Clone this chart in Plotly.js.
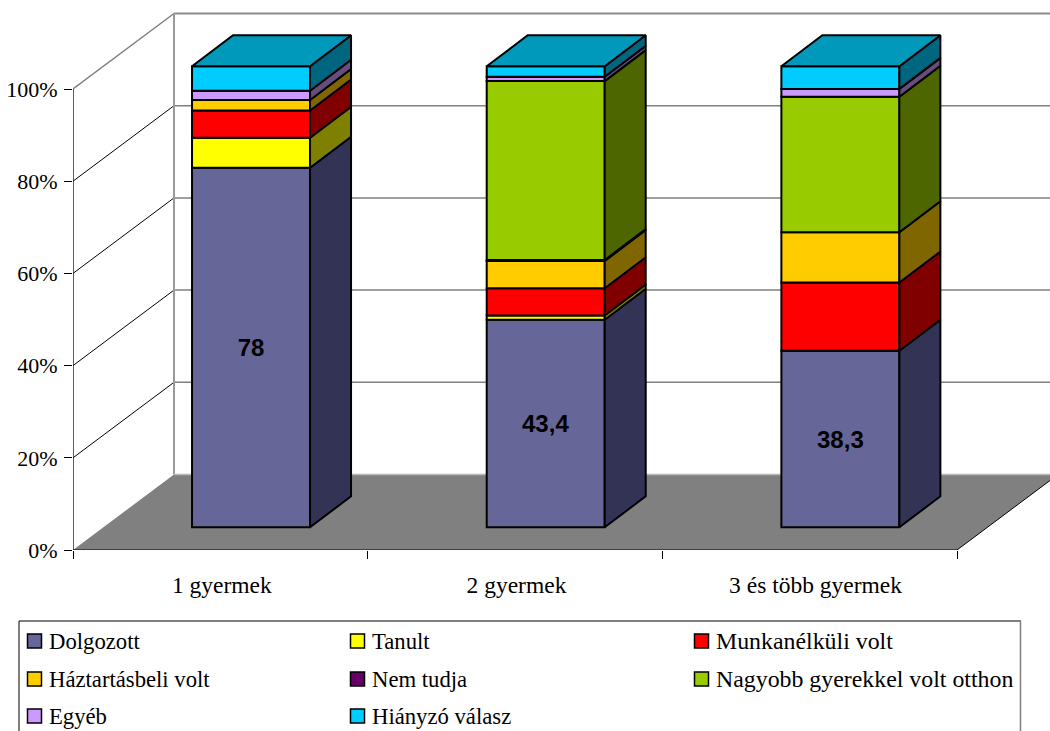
<!DOCTYPE html>
<html><head><meta charset="utf-8">
<script src="https://cdn.plot.ly/plotly-3.0.1.min.js"></script>
<style>html,body{margin:0;padding:0;background:#fff;overflow:hidden}</style>
</head><body><div id="chart" style="width:1050px;height:731px"></div>
<script>
var categories = ['1 gyermek', '2 gyermek', '3 és több gyermek'];
var labels = ['78', '43,4', '38,3'];
var dolgozott = [78, 43.4, 38.3];
var tanult = [6.5, 0.9, null];
var munkanelkuli = [5.9, 5.7, 14.8];
var haztartasbeli = [2.3, 5.7, 10.9];
var nemTudja = [null, 0.2, null];
var nagyobb = [null, 37.4, 29.4];
var egyeb = [2, 0.9, 1.7];
var hianyzo = [5.3, 2.2, 4.9];

var names = ['Dolgozott', 'Tanult', 'Munkanélküli volt', 'Háztartásbeli volt', 'Nem tudja', 'Nagyobb gyerekkel volt otthon', 'Egyéb', 'Hiányzó válasz'];
var series = [dolgozott, tanult, munkanelkuli, haztartasbeli, nemTudja, nagyobb, egyeb, hianyzo];
var frontColors = ['#666699', '#ffff00', '#ff0000', '#ffcc00', '#660066', '#99cc00', '#cc99ff', '#00ccff'];
var sideColors = ['#333355', '#808000', '#800000', '#806600', '#330033', '#4d6600', '#664d80', '#006680'];
var topColor = '#0099bb';

// pixel geometry of the plot
var L = 73, B = 550, W = 977, H = 550, CAT = 294.67, PCT = 4.61;
var WALL_DX = 101 / CAT, WALL_DY = 75.5 / PCT;      // floor depth
var BAR_SHIFT_X = 30.7 / CAT, BAR_SHIFT_Y = 22.7 / PCT; // bar position within floor
var BAR_W = 118 / CAT, BAR_DX = 41 / CAT, BAR_DY = 31 / PCT; // bar width and depth
var px = function (x) { return (x - L) / W; };
var py = function (y) { return (B - y) / H; };

var centers = categories.map(function (_, i) { return i + 0.5 + BAR_SHIFT_X; });
var totals = categories.map(function (_, c) {
  return series.reduce(function (s, arr) { return s + (arr[c] || 0); }, 0);
});
var traces = [], running = categories.map(function () { return 0; });
series.forEach(function (arr, s) {
  var base = [], h = [], sx = [], sy = [];
  categories.forEach(function (_, c) {
    var v = arr[c];
    var b = running[c] / totals[c] * 100;
    var pct = v === null ? null : v / totals[c] * 100;
    base.push(b + BAR_SHIFT_Y);
    h.push(pct);
    if (v !== null) {
      var xr = centers[c] + BAR_W / 2, y0 = b + BAR_SHIFT_Y, y1 = y0 + pct;
      sx.push(xr, xr + BAR_DX, xr + BAR_DX, xr, xr, null);
      sy.push(y0, y0 + BAR_DY, y1 + BAR_DY, y1, y0, null);
      running[c] += v;
    }
  });
  var tr = {
    type: 'bar', name: names[s], x: centers, y: h, base: base, width: BAR_W,
    marker: {color: frontColors[s], line: {color: '#000', width: 2}},
    hoverinfo: 'skip', showlegend: false
  };
  if (s === 0) {
    tr.text = labels; tr.textposition = 'inside'; tr.insidetextanchor = 'middle';
    tr.constraintext = 'none'; tr.textangle = 0;
    tr.insidetextfont = {family: '"Liberation Sans", Arial, sans-serif', size: 24, color: '#000', weight: 700};
    tr.texttemplate = '<b>%{text}</b>';
  }
  traces.push(tr);
  traces.push({
    type: 'scatter', mode: 'lines', x: sx, y: sy, fill: 'toself', fillcolor: sideColors[s],
    line: {color: '#000', width: 2}, hoverinfo: 'skip', showlegend: false
  });
});
// bar tops
var tx = [], ty = [];
categories.forEach(function (_, c) {
  var xl = centers[c] - BAR_W / 2, xr = centers[c] + BAR_W / 2, y = 100 + BAR_SHIFT_Y;
  tx.push(xl, xr, xr + BAR_DX, xl + BAR_DX, xl, null);
  ty.push(y, y, y + BAR_DY, y + BAR_DY, y, null);
});
traces.push({type: 'scatter', mode: 'lines', x: tx, y: ty, fill: 'toself', fillcolor: topColor,
  line: {color: '#000', width: 2}, hoverinfo: 'skip', showlegend: false});
// axis lines, not clipped at the plot edge
traces.push({type: 'scatter', mode: 'lines', x: [0, 0, categories.length], y: [100, 0, 0], cliponaxis: false,
  line: {color: '#000', width: 1.25}, hoverinfo: 'skip', showlegend: false});

var shapes = [];
var grey = '#808080';
function seg(x0, y0, x1, y1, color, width) {
  shapes.push({type: 'line', layer: 'below', xref: 'x', yref: 'y', x0: x0, y0: y0, x1: x1, y1: y1, line: {color: color, width: width}});
}
var N = categories.length, XMAX = W / CAT;
shapes.push({type: 'path', layer: 'below', xref: 'x', yref: 'y',
  path: 'M0,0 L' + N + ',0 L' + (N + WALL_DX) + ',' + WALL_DY + ' L' + WALL_DX + ',' + WALL_DY + ' Z',
  fillcolor: grey, line: {width: 0}});
seg(N, 0, N + WALL_DX, WALL_DY, '#000', 1);
[20, 40, 60, 80].forEach(function (v) {
  seg(0, v, WALL_DX, v + WALL_DY, '#000', 1);
  seg(WALL_DX, v + WALL_DY, XMAX + 1, v + WALL_DY, grey, 1.5);
});
seg(0, 100, WALL_DX, 100 + WALL_DY, grey, 1.5);
seg(WALL_DX, 100 + WALL_DY, XMAX + 1, 100 + WALL_DY, '#8c8c8c', 2);
seg(WALL_DX, WALL_DY, WALL_DX, 100 + WALL_DY, '#999999', 2);
seg(WALL_DX, WALL_DY, XMAX + 1, WALL_DY, '#b8b8b8', 1.5);

// legend
function frame(x0, y0, x1, y1, color, width) {
  shapes.push({type: 'line', xref: 'paper', yref: 'paper', x0: px(x0), y0: py(y0), x1: px(x1), y1: py(y1), line: {color: color, width: width}});
}
frame(19, 621, 1021, 621, '#000', 1);
frame(19, 621, 19, 740, '#000', 1);
frame(1020.5, 621, 1020.5, 740, grey, 1.5);
var annotations = [];
var colX = [27, 350, 694], rowY = [641, 679, 716], colFont = [22.7, 22.7, 23.85];
names.forEach(function (n, i) {
  var col = i % 3, cx = colX[col], cy = rowY[Math.floor(i / 3)];
  shapes.push({type: 'rect', xref: 'paper', yref: 'paper', x0: px(cx + 0.5), x1: px(cx + 14.5), y0: py(cy - 7), y1: py(cy + 7),
    fillcolor: frontColors[i], line: {color: '#000', width: 1.5}});
  annotations.push({xref: 'paper', yref: 'paper', x: px(cx + 21), y: py(cy), xanchor: 'left', yanchor: 'middle',
    showarrow: false, text: n, font: {size: colFont[col], color: '#000'}, borderpad: 0});
});

var layout = {
  width: 1050, height: 731, showlegend: false, barmode: 'overlay', paper_bgcolor: '#fff', plot_bgcolor: '#fff',
  font: {family: '"Liberation Serif", "Times New Roman", serif', size: 22, color: '#000'},
  margin: {l: L, r: 0, t: 0, b: 731 - B, pad: 0},
  xaxis: {range: [0, XMAX], showgrid: false, zeroline: false, showline: false, fixedrange: true,
    tickmode: 'array', tickvals: [0.505, 1.505, 2.52], ticktext: categories,
    ticks: '', ticklabelstandoff: 18, tickfont: {size: 23.5},
    minor: {tickmode: 'array', tickvals: [0, 1, 2, 3], ticks: 'outside', ticklen: 8, tickcolor: '#000', tickwidth: 1, showgrid: false}},
  yaxis: {range: [0, H / PCT], showgrid: false, zeroline: false, showline: false, fixedrange: true,
    tickmode: 'array', tickvals: [0, 20, 40, 60, 80, 100], ticktext: ['0%', '20%', '40%', '60%', '80%', '100%'],
    ticks: 'outside', ticklen: 8, tickcolor: '#000', tickwidth: 1, ticklabelstandoff: 2},
  shapes: shapes, annotations: annotations
};
Plotly.newPlot('chart', traces, layout, {displayModeBar: false, staticPlot: true});
</script></body></html>
